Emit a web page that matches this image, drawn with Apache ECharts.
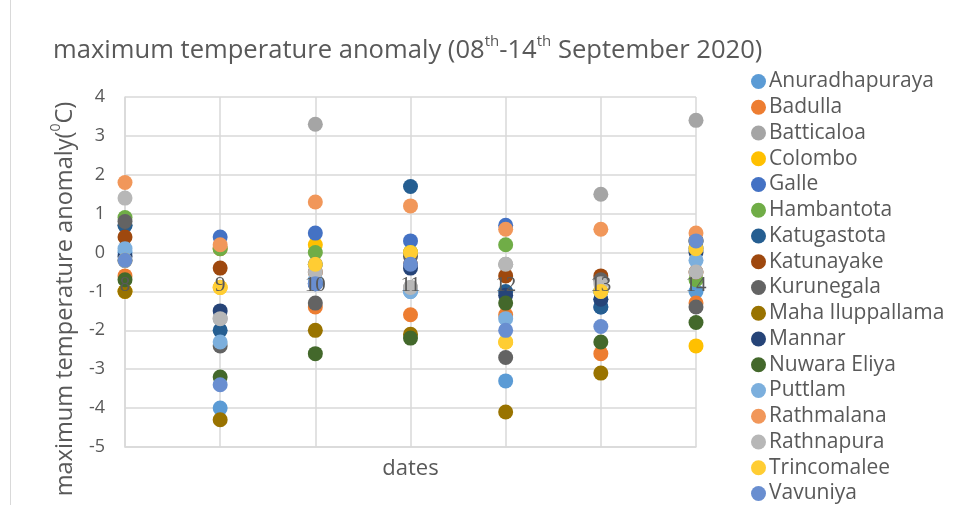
<!DOCTYPE html>
<html>
<head>
<meta charset="utf-8">
<script src="https://cdn.jsdelivr.net/npm/echarts@6/dist/echarts.min.js"></script>
<style>
  html, body { margin: 0; padding: 0; background: #fff; }
  #chart { width: 957px; height: 512px; }
</style>
</head>
<body>
<div id="chart"></div>
<script>
// dates (September 2020)
const dates = [8, 9, 10, 11, 12, 13, 14]
const yTicks = [-5, -4, -3, -2, -1, 0, 1, 2, 3, 4]

const stations = ['Anuradhapuraya', 'Badulla', 'Batticaloa', 'Colombo', 'Galle', 'Hambantota',
  'Katugastota', 'Katunayake', 'Kurunegala', 'Maha Iluppallama', 'Mannar', 'Nuwara Eliya',
  'Puttlam', 'Rathmalana', 'Rathnapura', 'Trincomalee', 'Vavuniya']

// max temperature anomaly per station, one value per date
const anuradhapuraya = [0.0, -4.0, -0.8, -1.0, -3.3, -1.2, -1.0]
const badulla = [-0.6, 0.1, -1.4, -1.6, -1.6, -2.6, -1.3]
const batticaloa = [0.7, -1.7, 3.3, -0.9, -0.3, 1.5, 3.4]
const colombo = [-1.0, -0.9, 0.2, 0.0, -2.3, -1.0, -2.4]
const galle = [-0.2, 0.4, 0.5, 0.3, 0.7, -1.4, 0.3]
const hambantota = [0.9, 0.1, 0.0, 0.0, 0.2, -1.0, -0.7]
const katugastota = [0.7, -2.0, -0.3, 1.7, -1.0, -1.4, 0.1]
const katunayake = [0.4, -0.4, -0.5, -0.3, -0.6, -0.6, -0.5]
const kurunegala = [0.8, -2.4, -1.3, -0.1, -2.7, -0.7, -1.4]
const mahaIluppallama = [-1.0, -4.3, -2.0, -2.1, -4.1, -3.1, 0.3]
const mannar = [-0.1, -1.5, -0.8, -0.4, -1.1, -1.2, 0.0]
const nuwaraEliya = [-0.7, -3.2, -2.6, -2.2, -1.3, -2.3, -1.8]
const puttlam = [0.1, -2.3, -0.7, -1.0, -1.7, -1.0, -0.2]
const rathmalana = [1.8, 0.2, 1.3, 1.2, 0.6, 0.6, 0.5]
const rathnapura = [1.4, -1.7, -0.5, -0.9, -0.3, -0.8, -0.5]
const trincomalee = [-0.2, -0.9, -0.3, 0.0, -2.3, -1.0, 0.1]
const vavuniya = [-0.2, -3.4, -0.8, -0.3, -2.0, -1.9, 0.3]

const values = [anuradhapuraya, badulla, batticaloa, colombo, galle, hambantota,
  katugastota, katunayake, kurunegala, mahaIluppallama, mannar, nuwaraEliya,
  puttlam, rathmalana, rathnapura, trincomalee, vavuniya]

const palette = ['#5B9BD5', '#ED7D31', '#A5A5A5', '#FFC000', '#4472C4', '#70AD47',
  '#255E91', '#9E480E', '#636363', '#997300', '#264478', '#43682B',
  '#7CAFDD', '#F1975A', '#B7B7B7', '#FFCD33', '#698ED0']

const font = 'Open Sans'
const textColor = '#595959'
const gridColor = '#d9d9d9'

const chart = echarts.init(document.getElementById('chart'))

const stationSeries = stations.map((name, i) => ({
  name: name,
  type: 'scatter',
  symbol: 'circle',
  symbolSize: 15,
  itemStyle: { color: palette[i], opacity: 1 },
  data: values[i].map((v, j) => [dates[j], v])
}))

// date labels sit on the zero line, drawn over the markers like the original
const dateLabelSeries = {
  name: 'dateLabels',
  type: 'scatter',
  symbolSize: 0,
  silent: true,
  z: 10,
  itemStyle: { color: textColor },
  label: {
    show: true,
    position: 'bottom',
    distance: 22,
    formatter: (p) => p.value[0],
    fontFamily: 'Liberation Serif',
    fontSize: 21,
    color: '#595959',
    opacity: 1,
    textBorderWidth: 0
  },
  data: dates.map(d => [d, 0])
}

const option = {
  animation: false,
  color: palette,
  title: {
    left: 48,
    top: 29,
    text: '{a|maximum temperature anomaly (08}{s|th}{a|-14}{s|th}{a| September 2020)}',
    textStyle: {
      fontWeight: 'normal',
      rich: {
        a: { fontFamily: font, fontSize: 25.6, fontWeight: 'normal', color: textColor, lineHeight: 30, verticalAlign: 'bottom' },
        s: { fontFamily: font, fontSize: 15, fontWeight: 'normal', color: textColor, lineHeight: 30, verticalAlign: 'top' }
      }
    }
  },
  legend: {
    orient: 'vertical',
    left: 746,
    top: 66,
    height: 460,
    icon: 'circle',
    itemWidth: 15,
    itemHeight: 15,
    itemGap: 4.75,
    textStyle: { fontFamily: font, fontSize: 21, color: textColor, lineHeight: 20, padding: [0, 0, 0, -2] },
    data: stations
  },
  grid: { left: 125, right: 261, top: 97, bottom: 65, containLabel: false, outerBoundsMode: 'none' },
  xAxis: {
    type: 'value',
    min: dates[0],
    max: dates[dates.length - 1],
    interval: 1,
    name: 'dates',
    nameLocation: 'middle',
    nameGap: 11,
    nameTextStyle: { fontFamily: font, fontSize: 22, color: textColor },
    axisLine: { onZero: false, lineStyle: { color: gridColor, width: 1.5 } },
    axisTick: { show: false },
    axisLabel: { show: false },
    splitLine: { show: true, lineStyle: { color: gridColor, width: 1.5 } }
  },
  yAxis: {
    type: 'value',
    min: yTicks[0],
    max: yTicks[yTicks.length - 1],
    interval: 1,
    name: '{a|maximum temperature anomaly(}{s|0}{a|C)}',
    nameLocation: 'middle',
    nameRotate: 90,
    nameGap: 48,
    nameTextStyle: {
      padding: [0, 54, 0, 0],
      rich: {
        a: { fontFamily: font, fontSize: 23.6, color: textColor, lineHeight: 28, verticalAlign: 'bottom' },
        s: { fontFamily: font, fontSize: 14, color: textColor, lineHeight: 28, verticalAlign: 'top' }
      }
    },
    axisLine: { show: true, onZero: false, lineStyle: { color: gridColor, width: 1.5 } },
    axisTick: { show: false },
    axisLabel: { margin: 20, fontFamily: font, fontSize: 18, color: textColor },
    splitLine: { show: true, lineStyle: { color: gridColor, width: 1.5 } }
  },
  graphic: [{
    type: 'line',
    shape: { x1: 10.5, y1: 0, x2: 10.5, y2: 505 },
    style: { stroke: gridColor, lineWidth: 1 },
    silent: true
  }],
  series: stationSeries.concat([dateLabelSeries])
}

chart.setOption(option)
</script>
</body>
</html>
